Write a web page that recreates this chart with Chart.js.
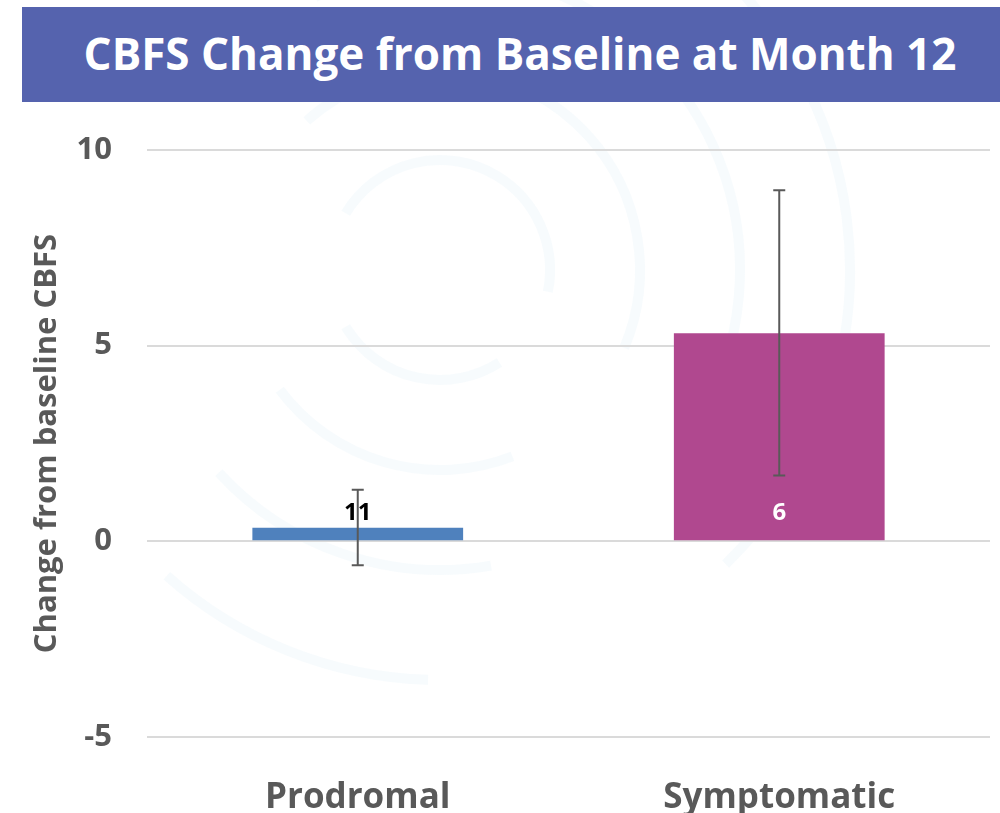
<!DOCTYPE html>
<html>
<head>
<meta charset="utf-8">
<script src="https://cdn.jsdelivr.net/npm/chart.js@4"></script>
<style>
  html, body { margin: 0; padding: 0; background: #ffffff; width: 1000px; height: 813px; overflow: hidden; }
  #banner { position: absolute; left: 22px; top: 7px; width: 978px; height: 95px; background: #5563ae; z-index: 2;
    color: #ffffff; font-family: "Open Sans", sans-serif; font-weight: 700; font-size: 44px;
    display: flex; align-items: center; justify-content: center; box-sizing: border-box; padding-left: 18px; padding-bottom: 4px; }
  #wrap { position: absolute; left: 0; top: 0; width: 1000px; height: 813px; z-index: 1; }
</style>
</head>
<body>
<div id="banner">CBFS Change from Baseline at Month 12</div>
<div id="wrap"><canvas id="c" width="1000" height="813"></canvas></div>
<script>
const categories = ['Prodromal', 'Symptomatic'];
const meanChange = [0.35, 5.32];
const errLow = [-0.61, 1.68];
const errHigh = [1.32, 8.97];
const nLabels = ['11', '6'];
const barColors = ['#4f81bd', '#b0488f'];
const nLabelColors = ['#000000', '#ffffff'];
const yMin = -5, yMax = 10, yStep = 5;
const yTitle = 'Change from baseline CBFS';

const watermark = {
  id: 'watermark',
  beforeDraw(chart) {
    const ctx = chart.ctx;
    ctx.save();
    ctx.strokeStyle = 'rgba(170, 215, 235, 0.09)';
    ctx.lineWidth = 10;
    const cx = 440, cy = 270;
    [110, 200, 300, 410].forEach((r, i) => {
      ctx.beginPath();
      ctx.arc(cx, cy, r, -2.6 + i * 0.3, 0.2 + i * 0.2);
      ctx.stroke();
      ctx.beginPath();
      ctx.arc(cx, cy, r, 1.0 + i * 0.2, 2.6 - i * 0.1);
      ctx.stroke();
    });
    ctx.restore();
  }
};

const errorBars = {
  id: 'errorBars',
  afterDatasetsDraw(chart) {
    const ctx = chart.ctx;
    const meta = chart.getDatasetMeta(0);
    const ys = chart.scales.y;
    ctx.save();
    ctx.strokeStyle = '#595959';
    ctx.lineWidth = 2;
    meta.data.forEach((bar, i) => {
      const x = bar.x;
      const yl = ys.getPixelForValue(errLow[i]);
      const yh = ys.getPixelForValue(errHigh[i]);
      ctx.beginPath();
      ctx.moveTo(x, yl); ctx.lineTo(x, yh);
      ctx.moveTo(x - 6, yl); ctx.lineTo(x + 6, yl);
      ctx.moveTo(x - 6, yh); ctx.lineTo(x + 6, yh);
      ctx.stroke();
    });
    ctx.restore();
  }
};

const nLabelPlugin = {
  id: 'nLabels',
  afterDraw(chart) {
    const ctx = chart.ctx;
    const meta = chart.getDatasetMeta(0);
    const y0 = chart.scales.y.getPixelForValue(0);
    ctx.save();
    ctx.font = '700 24px "Open Sans", sans-serif';
    ctx.textAlign = 'center';
    ctx.textBaseline = 'middle';
    meta.data.forEach((bar, i) => {
      ctx.fillStyle = nLabelColors[i];
      ctx.fillText(nLabels[i], bar.x, y0 - 28);
    });
    ctx.restore();
  }
};

new Chart(document.getElementById('c'), {
  type: 'bar',
  data: {
    labels: categories,
    datasets: [{
      data: meanChange,
      backgroundColor: barColors,
      borderWidth: 0,
      barPercentage: 1.0,
      categoryPercentage: 0.5
    }]
  },
  options: {
    responsive: false,
    animation: false,
    devicePixelRatio: 1,
    layout: { padding: { top: 150, right: 10, left: 0, bottom: 0 } },
    plugins: { legend: { display: false }, tooltip: { enabled: false } },
    scales: {
      x: {
        grid: { display: false },
        border: { display: false },
        ticks: { color: '#595959', padding: 32, font: { family: 'Open Sans', weight: '700', size: 35 } },
        afterFit(s) { s.height = 76; }
      },
      y: {
        min: yMin, max: yMax,
        grid: { color: '#dadada', lineWidth: 2, drawTicks: false },
        border: { display: false },
        ticks: { stepSize: yStep, color: '#595959', padding: 35, font: { family: 'Open Sans', weight: '700', size: 31 } },
        title: { display: true, text: yTitle, color: '#595959', padding: { top: 29, bottom: 0 },
                 font: { family: 'Open Sans', weight: '700', size: 31 } },
        afterFit(s) { s.width = 147; }
      }
    }
  },
  plugins: [watermark, errorBars, nLabelPlugin]
});
</script>
</body>
</html>
